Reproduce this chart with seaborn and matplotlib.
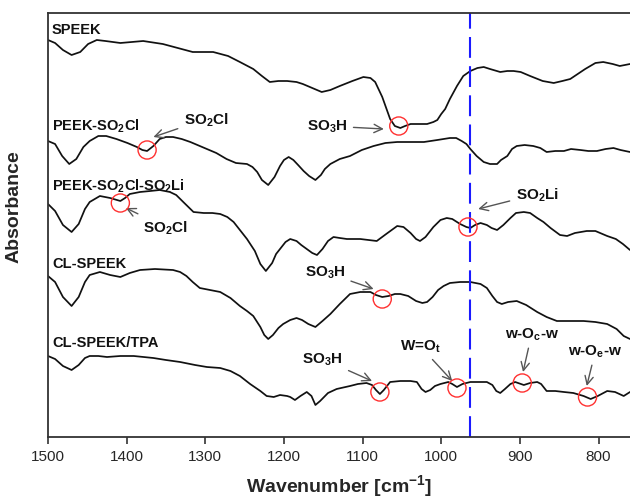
import numpy as np
import pandas as pd
import matplotlib
matplotlib.use("Agg")
import matplotlib.pyplot as plt
import seaborn as sns

# ---------------- data ----------------
wn_speek = [1500, 1491, 1481, 1470, 1459, 1449, 1438, 1427, 1408, 1379, 1354, 1335, 1316, 1290,
            1271, 1256, 1239, 1228, 1218, 1207, 1196, 1184, 1176, 1164, 1152, 1141, 1129, 1113,
            1099, 1090, 1084, 1075, 1065, 1059, 1052, 1046, 1039, 1027, 1018, 1010, 1005, 1000,
            995, 989, 980, 972, 963, 954, 946, 938, 925, 916, 908, 899, 887, 871, 857, 846, 836,
            817, 804, 794, 782, 773, 760]
a_speek = [3.99, 3.96, 3.89, 3.84, 3.87, 3.95, 3.99, 3.98, 3.96, 3.98, 3.95, 3.91, 3.87, 3.87,
           3.83, 3.77, 3.70, 3.63, 3.57, 3.58, 3.58, 3.57, 3.55, 3.51, 3.47, 3.49, 3.53, 3.58,
           3.62, 3.61, 3.57, 3.42, 3.20, 3.13, 3.11, 3.13, 3.15, 3.15, 3.15, 3.17, 3.19, 3.25,
           3.30, 3.40, 3.53, 3.63, 3.68, 3.71, 3.72, 3.70, 3.67, 3.68, 3.68, 3.67, 3.63, 3.58,
           3.56, 3.58, 3.60, 3.70, 3.76, 3.77, 3.75, 3.73, 3.75]

wn_so2cl = [1500, 1491, 1482, 1473, 1464, 1455, 1447, 1436, 1426, 1413, 1399, 1387, 1380, 1374,
            1366, 1358, 1350, 1341, 1330, 1319, 1298, 1286, 1273, 1261, 1247, 1240, 1234, 1228,
            1220, 1212, 1205, 1200, 1194, 1188, 1182, 1175, 1168, 1160, 1153, 1148, 1141, 1129,
            1116, 1101, 1086, 1071, 1056, 1039, 1022, 1005, 989, 981, 974, 968, 963, 955, 946,
            938, 929, 924, 916, 910, 904, 894, 883, 874, 866, 855, 844, 835, 823, 813, 802, 791,
            781, 772, 760]
a_so2cl = [2.98, 2.95, 2.83, 2.75, 2.80, 2.92, 2.98, 3.03, 3.03, 3.00, 2.96, 2.92, 2.89, 2.88,
           2.93, 3.00, 3.02, 3.02, 3.00, 2.97, 2.90, 2.86, 2.80, 2.76, 2.75, 2.72, 2.67, 2.59,
           2.54, 2.62, 2.73, 2.79, 2.82, 2.79, 2.74, 2.68, 2.63, 2.59, 2.64, 2.70, 2.75, 2.80,
           2.83, 2.89, 2.93, 2.96, 2.97, 2.97, 2.97, 2.99, 3.01, 3.01, 2.98, 2.95, 2.90, 2.83,
           2.77, 2.75, 2.75, 2.79, 2.83, 2.90, 2.93, 2.94, 2.93, 2.91, 2.87, 2.88, 2.88, 2.90,
           2.89, 2.88, 2.88, 2.90, 2.91, 2.89, 2.87]

wn_so2li = [1500, 1491, 1481, 1470, 1461, 1453, 1447, 1434, 1421, 1408, 1402, 1396, 1383, 1370,
            1358, 1345, 1337, 1328, 1315, 1302, 1291, 1281, 1272, 1264, 1256, 1247, 1237, 1230,
            1223, 1215, 1210, 1205, 1198, 1192, 1184, 1178, 1171, 1164, 1158, 1151, 1144, 1137,
            1129, 1120, 1103, 1082, 1070, 1056, 1048, 1039, 1032, 1027, 1020, 1010, 1001, 993,
            986, 976, 968, 963, 957, 950, 942, 936, 929, 921, 912, 905, 895, 887, 878, 870, 861,
            849, 840, 830, 815, 804, 789, 778, 769, 760]
a_so2li = [2.35, 2.28, 2.14, 2.07, 2.15, 2.30, 2.37, 2.43, 2.41, 2.38, 2.41, 2.45, 2.47, 2.48,
           2.49, 2.47, 2.44, 2.37, 2.27, 2.26, 2.26, 2.25, 2.22, 2.17, 2.09, 2.00, 1.88, 1.75,
           1.68, 1.76, 1.85, 1.90, 1.97, 2.00, 1.98, 1.94, 1.90, 1.86, 1.84, 1.90, 1.98, 2.02,
           2.01, 2.00, 2.00, 1.98, 2.05, 2.13, 2.12, 2.06, 2.00, 1.98, 2.02, 2.12, 2.19, 2.21,
           2.20, 2.15, 2.12, 2.11, 2.14, 2.16, 2.14, 2.11, 2.09, 2.14, 2.21, 2.26, 2.27, 2.26,
           2.21, 2.17, 2.11, 2.04, 2.03, 2.06, 2.08, 2.08, 2.03, 2.00, 1.95, 1.89]

wn_clspeek = [1500, 1491, 1481, 1470, 1461, 1453, 1447, 1434, 1421, 1408, 1396, 1383, 1364, 1341,
              1332, 1324, 1316, 1307, 1294, 1281, 1268, 1256, 1247, 1239, 1230, 1225, 1220, 1214,
              1207, 1201, 1192, 1184, 1177, 1169, 1160, 1151, 1141, 1129, 1116, 1103, 1090, 1083,
              1075, 1067, 1059, 1052, 1042, 1032, 1024, 1018, 1011, 1004, 997, 989, 976, 963, 950,
              942, 935, 929, 923, 915, 904, 892, 878, 866, 853, 836, 819, 804, 789, 777, 768, 760]
a_clspeek = [1.63, 1.57, 1.42, 1.33, 1.42, 1.57, 1.64, 1.67, 1.64, 1.62, 1.66, 1.69, 1.70, 1.69,
             1.67, 1.63, 1.57, 1.51, 1.49, 1.47, 1.41, 1.33, 1.28, 1.23, 1.12, 1.04, 1.00, 1.04,
             1.11, 1.15, 1.19, 1.21, 1.19, 1.15, 1.12, 1.18, 1.25, 1.35, 1.45, 1.47, 1.47, 1.44,
             1.42, 1.43, 1.45, 1.45, 1.43, 1.38, 1.36, 1.37, 1.42, 1.49, 1.53, 1.56, 1.57, 1.57,
             1.55, 1.51, 1.43, 1.37, 1.35, 1.37, 1.38, 1.34, 1.27, 1.22, 1.18, 1.18, 1.18, 1.17,
             1.15, 1.10, 1.03, 1.00]

wn_tpa = [1500, 1491, 1481, 1470, 1461, 1453, 1447, 1436, 1425, 1408, 1391, 1366, 1350, 1332,
          1313, 1298, 1281, 1268, 1256, 1243, 1230, 1222, 1213, 1205, 1196, 1192, 1186, 1179,
          1171, 1165, 1160, 1154, 1144, 1133, 1116, 1106, 1095, 1088, 1083, 1078, 1073, 1065,
          1052, 1039, 1031, 1025, 1020, 1014, 1008, 1001, 991, 986, 980, 973, 963, 953, 942,
          935, 930, 925, 919, 912, 906, 895, 887, 878, 873, 866, 855, 844, 832, 819, 810, 801,
          789, 779, 768, 760]
a_tpa = [0.83, 0.80, 0.73, 0.69, 0.74, 0.81, 0.83, 0.83, 0.82, 0.83, 0.83, 0.81, 0.79, 0.77,
         0.74, 0.72, 0.71, 0.68, 0.63, 0.55, 0.48, 0.43, 0.42, 0.44, 0.43, 0.42, 0.39, 0.43,
         0.47, 0.43, 0.34, 0.38, 0.46, 0.50, 0.53, 0.55, 0.56, 0.54, 0.49, 0.45, 0.49, 0.57,
         0.58, 0.58, 0.57, 0.50, 0.47, 0.49, 0.53, 0.55, 0.57, 0.55, 0.52, 0.55, 0.57, 0.57,
         0.57, 0.54, 0.48, 0.46, 0.50, 0.55, 0.57, 0.54, 0.56, 0.57, 0.55, 0.48, 0.48, 0.47,
         0.46, 0.43, 0.40, 0.43, 0.48, 0.47, 0.43, 0.47]

sample_names = ["SPEEK", "PEEK-SO$_2$Cl", "PEEK-SO$_2$Cl-SO$_2$Li", "CL-SPEEK", "CL-SPEEK/TPA"]
sample_label_y = [4.10, 3.14, 2.54, 1.76, 0.97]

# marked bands (red circles)
circle_wn = [1054, 1374, 1408, 966, 1075, 1078, 980, 897, 814]
circle_a = [3.13, 2.89, 2.36, 2.12, 1.40, 0.47, 0.51, 0.56, 0.42]

# band annotations: text, text position, arrow head position
ann_text = ["SO$_3$H", "SO$_2$Cl", "SO$_2$Cl", "SO$_2$Li", "SO$_3$H", "SO$_3$H",
            "W=O$_t$", "w-O$_c$-w", "w-O$_e$-w"]
ann_text_wn = [1145, 1299, 1351, 878, 1148, 1151, 1027, 885, 804]
ann_text_a = [3.13, 3.20, 2.12, 2.45, 1.67, 0.80, 0.93, 1.05, 0.88]
ann_head_wn = [1073, 1366, 1401, 953, 1086, 1088, 986, 896, 815]
ann_head_a = [3.10, 3.02, 2.31, 2.30, 1.50, 0.58, 0.58, 0.67, 0.53]

ref_line_wn = 963
x_ticks = [1500, 1400, 1300, 1200, 1100, 1000, 900, 800]

# ---------------- build long-form table ----------------
frames = []
for name, w, a in zip(sample_names,
                      [wn_speek, wn_so2cl, wn_so2li, wn_clspeek, wn_tpa],
                      [a_speek, a_so2cl, a_so2li, a_clspeek, a_tpa]):
    frames.append(pd.DataFrame({"wavenumber": w, "absorbance": a, "sample": name}))
df = pd.concat(frames, ignore_index=True)

# ---------------- plotting ----------------
sns.set_theme(style="ticks")
plt.rcParams["font.family"] = ["Liberation Sans", "DejaVu Sans"]
plt.rcParams["mathtext.fontset"] = "custom"
plt.rcParams["mathtext.rm"] = "Liberation Sans:bold"
plt.rcParams["mathtext.bf"] = "Liberation Sans:bold"
plt.rcParams["mathtext.it"] = "Liberation Sans:bold"
plt.rcParams["mathtext.default"] = "bf"

fig = plt.figure(figsize=(6.30, 5.02), dpi=100)
ax = fig.add_axes([48 / 630, 64 / 502, 582 / 630, 424 / 502])

sns.lineplot(data=df, x="wavenumber", y="absorbance", units="sample", estimator=None,
             sort=False, color="#111111", linewidth=1.25, ax=ax, legend=False)
for ln in ax.get_lines():
    ln.set_solid_joinstyle("round")

ax.axvline(ref_line_wn, color="#1a1aff", linewidth=1.5, dashes=(10, 4))

ax.scatter(circle_wn, circle_a, s=170, facecolors="none", edgecolors="#ff3030",
           linewidths=1.0, zorder=5)

for name, y in zip(sample_names, sample_label_y):
    ax.text(1495, y, name, fontsize=10.5, fontweight="bold", ha="left", va="center",
            color="#111111")

for t, tx, ty, hx, hy in zip(ann_text, ann_text_wn, ann_text_a, ann_head_wn, ann_head_a):
    ax.annotate(t, xy=(hx, hy), xytext=(tx, ty), fontsize=11, fontweight="bold",
                ha="center", va="center", color="#111111",
                arrowprops=dict(arrowstyle="->", color="#555555", lw=1.0,
                                shrinkA=2, shrinkB=0, mutation_scale=15))

ax.set_xlim(1500, 760)
ax.set_ylim(0.02, 4.26)
ax.set_xticks(x_ticks)
ax.set_xticklabels([str(v) for v in x_ticks], fontsize=11)
ax.set_yticks([])
ax.tick_params(axis="x", direction="out", length=5, width=1.2, color="#333333", pad=4)
for side in ["left", "bottom", "top"]:
    ax.spines[side].set_linewidth(1.3)
    ax.spines[side].set_color("#333333")
ax.spines["right"].set_visible(False)

ax.set_xlabel("Wavenumber [cm$^{-1}$]", fontsize=14, fontweight="bold", labelpad=6)
ax.set_ylabel("Absorbance", fontsize=14, fontweight="bold")
ax.yaxis.set_label_coords(-0.043, 0.545)

fig.savefig("out.png", dpi=100)
